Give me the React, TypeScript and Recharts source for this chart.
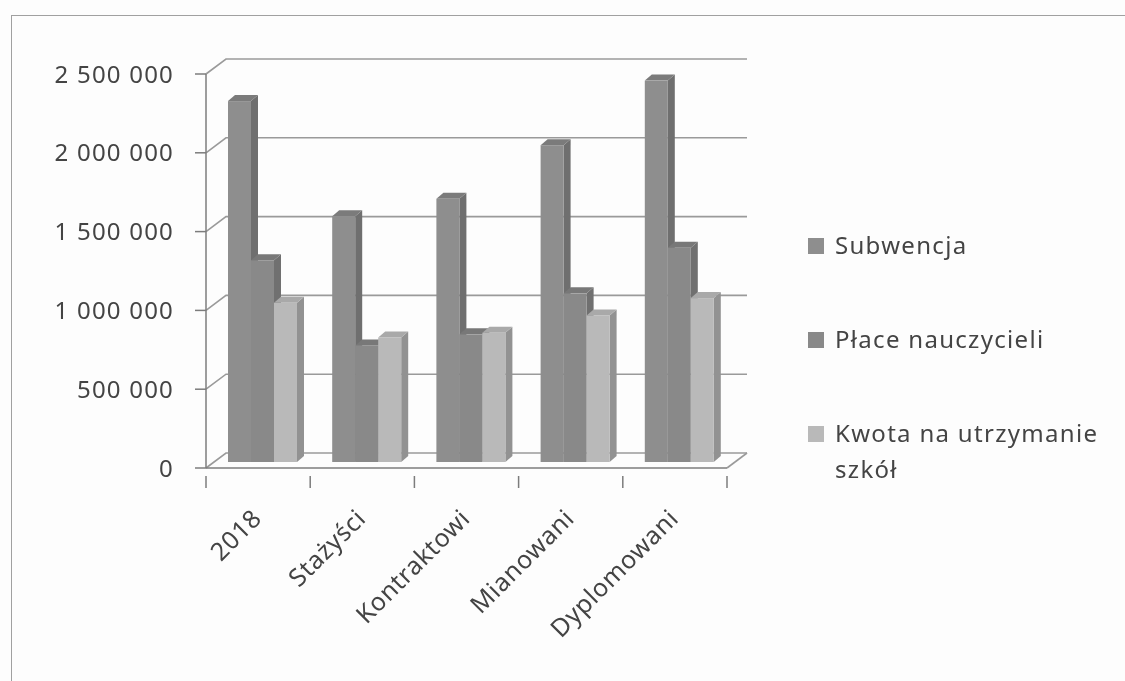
import { Bar, BarChart, CartesianGrid, Legend, XAxis, YAxis } from 'recharts';

const categories = ['2018', 'Stażyści', 'Kontraktowi', 'Mianowani', 'Dyplomowani'];
const subwencja = [2290000, 1560000, 1670000, 2010000, 2420000];
const place = [1280000, 740000, 810000, 1070000, 1360000];
const kwota = [1010000, 790000, 820000, 930000, 1040000];
const yTicks = [0, 500000, 1000000, 1500000, 2000000, 2500000];

const data = categories.map((name, i) => ({
  name,
  Subwencja: subwencja[i],
  'Płace nauczycieli': place[i],
  'Kwota na utrzymanie szkół': kwota[i],
}));

const FONT = '"Noto Sans", sans-serif';
const TEXT = '#444';
const AXIS = '#7c7c7c';
const GRID = '#9a9a9a';
const BAND = 104.2;

const Bar3D = ({ x, y, width, height, fill, side, top }: any) => {
  // bars stand half way back on the floor
  const l = x + 5;
  const r = l + width;
  const t = y - 6;
  const b = t + height;
  const dx = 7;
  const dy = 6;
  return (
    <g>
      <polygon points={`${r},${t} ${r + dx},${t - dy} ${r + dx},${b - dy} ${r},${b}`} fill={side} />
      <polygon points={`${l},${t} ${l + dx},${t - dy} ${r + dx},${t - dy} ${r},${t}`} fill={top} />
      <rect x={l} y={t} width={width} height={height} fill={fill} />
    </g>
  );
};

const WallLine = ({ x1, y1, x2 }: any) => (
  <g stroke={GRID} strokeWidth={1.6} fill="none">
    <polyline points={`${x1},${y1} ${x1 + 20},${y1 - 15} ${x2 + 20},${y1 - 15}`} />
    {y1 > 400 && <line x1={x2} y1={y1} x2={x2 + 20} y2={y1 - 15} />}
  </g>
);

const CategoryTick = ({ x, y, payload, index }: any) => (
  <g>
    <line x1={x - BAND / 2} y1={y} x2={x - BAND / 2} y2={y + 12} stroke={AXIS} strokeWidth={1.5} />
    {index === categories.length - 1 && (
      <line x1={x + BAND / 2} y1={y} x2={x + BAND / 2} y2={y + 12} stroke={AXIS} strokeWidth={1.5} />
    )}
    <text
      x={x + 5}
      y={y + 44}
      textAnchor="end"
      transform={`rotate(-45 ${x + 5} ${y + 44})`}
      fontSize={25}
      letterSpacing={0.6}
      fontFamily={FONT}
      fill={TEXT}
    >
      {payload.value}
    </text>
  </g>
);

const LegendList = ({ payload }: any) => (
  <div style={{ fontFamily: FONT, fontSize: 24, color: TEXT, letterSpacing: 1.3 }}>
    {payload.map((item: any) => (
      <div key={item.value} style={{ display: 'flex', height: 94, alignItems: 'flex-start' }}>
        <span style={{ width: 16, height: 16, marginTop: 5, marginRight: 11, flex: 'none', background: item.color }} />
        <span style={{ width: 275, lineHeight: '36px', marginTop: -6 }}>{item.value}</span>
      </div>
    ))}
  </div>
);

const formatTick = (v: number) => v.toLocaleString('en-US').replace(/,/g, '\u00a0');

const App = () => {
  return (
    <div
      style={{
        position: 'absolute',
        left: 0,
        top: 0,
        width: 1125,
        height: 681,
        background: '#fdfdfd',
        overflow: 'hidden',
        filter: 'blur(0.5px)',
      }}
    >
      <div
        style={{
          position: 'absolute',
          left: 11,
          top: 15,
          width: 1200,
          height: 800,
          borderLeft: '1.5px solid #a0a0a0',
          borderTop: '1.5px solid #a0a0a0',
        }}
      />
      <BarChart
        width={1125}
        height={681}
        data={data}
        barGap={0}
        barCategoryGap={17}
        margin={{ top: 74, right: 81, bottom: 0, left: 0 }}
        style={{ position: 'absolute', left: 0, top: 0 }}
      >
        <CartesianGrid vertical={false} horizontal={(p: any) => <WallLine key={p.key} {...p} />} />
        <XAxis
          dataKey="name"
          height={213}
          interval={0}
          axisLine={{ stroke: AXIS, strokeWidth: 1.5 }}
          tickLine={false}
          tick={<CategoryTick />}
        />
        <YAxis
          width={206}
          domain={[0, 2500000]}
          ticks={yTicks}
          tickFormatter={formatTick}
          tickSize={11}
          tickMargin={21}
          interval={0}
          axisLine={{ stroke: AXIS, strokeWidth: 1.5 }}
          tickLine={{ stroke: AXIS, strokeWidth: 1.5 }}
          tick={{ fontSize: 24, fontFamily: FONT, fill: TEXT, letterSpacing: 1.2 }}
        />
        <Legend
          layout="vertical"
          align="right"
          verticalAlign="top"
          itemSorter={null}
          content={<LegendList />}
          wrapperStyle={{ position: 'absolute', left: 808, top: 233, width: 317 }}
        />
        <Bar dataKey="Subwencja" fill="#8e8e8e" isAnimationActive={false} shape={<Bar3D side="#6f6f6f" top="#7b7b7b" />} />
        <Bar dataKey="Płace nauczycieli" fill="#898989" isAnimationActive={false} shape={<Bar3D side="#707070" top="#787878" />} />
        <Bar dataKey="Kwota na utrzymanie szkół" fill="#b9b9b9" isAnimationActive={false} shape={<Bar3D side="#929292" top="#a9a9a9" />} />
      </BarChart>
    </div>
  );
};

export default App;
